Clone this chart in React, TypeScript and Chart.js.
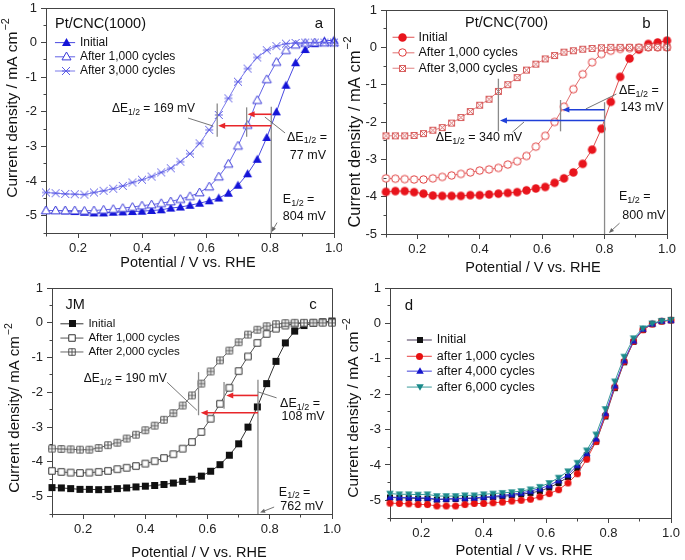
import React, { useEffect, useRef } from 'react';
import { Chart, registerables } from 'chart.js';
Chart.register(...registerables);

const FONT = '"Liberation Sans", Arial, Helvetica, sans-serif';

// ---------------- data ----------------
const POTENTIAL = [0.10, 0.13, 0.16, 0.19, 0.22, 0.25, 0.28, 0.31, 0.34, 0.37, 0.40, 0.43, 0.46, 0.49, 0.52, 0.55, 0.58, 0.61, 0.64, 0.67, 0.70, 0.73, 0.76, 0.79, 0.82, 0.85, 0.88, 0.91, 0.94, 0.97, 1.00];

const X_TICKS = [0.2, 0.4, 0.6, 0.8, 1.0];
const Y_TICKS = [1, 0, -1, -2, -3, -4, -5];

const A_INITIAL = [-4.85, -4.85, -4.86, -4.88, -4.9, -4.92, -4.92, -4.9, -4.89, -4.88, -4.87, -4.85, -4.83, -4.78, -4.75, -4.70, -4.64, -4.57, -4.49, -4.35, -4.12, -3.79, -3.37, -2.74, -2.0, -1.23, -0.58, -0.2, -0.03, 0.05, 0.07];
const A_1000 = [-4.85, -4.85, -4.85, -4.85, -4.86, -4.85, -4.83, -4.81, -4.78, -4.75, -4.71, -4.68, -4.64, -4.59, -4.52, -4.44, -4.33, -4.16, -3.87, -3.5, -2.98, -2.38, -1.66, -1.06, -0.56, -0.22, -0.06, -0.01, 0, 0, 0];
const A_3000 = [-4.33, -4.35, -4.37, -4.38, -4.39, -4.33, -4.28, -4.22, -4.14, -4.04, -3.96, -3.87, -3.75, -3.63, -3.44, -3.21, -2.91, -2.52, -2.09, -1.61, -1.13, -0.75, -0.43, -0.22, -0.1, -0.03, -0.01, 0, 0, 0, 0];

const B_INITIAL = [-3.87, -3.85, -3.85, -3.88, -3.92, -3.97, -3.98, -3.98, -3.98, -3.96, -3.96, -3.94, -3.92, -3.9, -3.88, -3.83, -3.78, -3.74, -3.63, -3.51, -3.35, -3.12, -2.74, -2.18, -1.46, -0.79, -0.30, -0.06, 0.09, 0.13, 0.18];
const B_1000 = [-3.51, -3.52, -3.53, -3.54, -3.54, -3.51, -3.47, -3.43, -3.39, -3.35, -3.3, -3.27, -3.23, -3.14, -3.05, -2.91, -2.66, -2.37, -2.0, -1.59, -1.12, -0.72, -0.40, -0.18, -0.09, -0.04, -0.02, -0.01, 0, 0, 0];
const B_3000 = [-2.37, -2.37, -2.37, -2.36, -2.31, -2.22, -2.15, -2.03, -1.88, -1.72, -1.55, -1.39, -1.18, -1.0, -0.81, -0.61, -0.45, -0.31, -0.22, -0.13, -0.09, -0.05, -0.03, -0.01, 0, 0, 0, 0, 0, 0, 0];

const C_INITIAL = [-4.74, -4.75, -4.77, -4.79, -4.79, -4.8, -4.79, -4.77, -4.75, -4.72, -4.7, -4.68, -4.65, -4.61, -4.56, -4.5, -4.41, -4.27, -4.08, -3.81, -3.48, -3.0, -2.42, -1.75, -1.11, -0.58, -0.24, -0.08, -0.01, 0.02, 0.05];
const C_1000 = [-4.26, -4.29, -4.31, -4.32, -4.31, -4.29, -4.26, -4.21, -4.17, -4.12, -4.05, -3.98, -3.89, -3.78, -3.62, -3.43, -3.14, -2.76, -2.33, -1.87, -1.39, -0.97, -0.58, -0.32, -0.17, -0.08, -0.03, -0.01, 0, 0.02, 0.02];
const C_2000 = [-3.62, -3.63, -3.64, -3.65, -3.65, -3.6, -3.52, -3.45, -3.33, -3.22, -3.09, -2.96, -2.79, -2.6, -2.38, -2.09, -1.75, -1.4, -1.08, -0.8, -0.56, -0.34, -0.2, -0.1, -0.04, -0.01, 0, 0, 0, 0, 0];

const D_INITIAL = [-4.92, -4.93, -4.94, -4.95, -4.95, -4.98, -4.97, -4.96, -4.95, -4.95, -4.92, -4.91, -4.89, -4.86, -4.83, -4.79, -4.74, -4.64, -4.51, -4.34, -4.09, -3.73, -3.34, -2.63, -1.83, -1.1, -0.52, -0.18, -0.02, 0.06, 0.09];
const D_1000 = [-5.08, -5.09, -5.1, -5.12, -5.12, -5.16, -5.16, -5.16, -5.12, -5.09, -5.09, -5.07, -5.05, -5.02, -5.0, -4.97, -4.9, -4.81, -4.7, -4.51, -4.25, -3.84, -3.34, -2.6, -1.8, -1.08, -0.51, -0.18, -0.02, 0.06, 0.09];
const D_4000 = [-4.91, -4.92, -4.92, -4.93, -4.93, -4.97, -4.96, -4.95, -4.94, -4.93, -4.91, -4.89, -4.86, -4.83, -4.79, -4.74, -4.67, -4.58, -4.44, -4.28, -4.01, -3.67, -3.26, -2.54, -1.76, -1.05, -0.49, -0.16, -0.01, 0.07, 0.09];
const D_6000 = [-4.81, -4.83, -4.83, -4.84, -4.83, -4.88, -4.88, -4.88, -4.86, -4.86, -4.83, -4.81, -4.79, -4.77, -4.74, -4.69, -4.62, -4.51, -4.36, -4.18, -3.94, -3.59, -3.14, -2.42, -1.64, -0.94, -0.42, -0.14, 0, 0.07, 0.1];

// ---------------- markers ----------------
function makeMarker(kind: string, color: string, size: number): HTMLCanvasElement {
  const S = Math.ceil(size) + 4;
  const c = document.createElement('canvas');
  c.width = S;
  c.height = S;
  const g = c.getContext('2d') as CanvasRenderingContext2D;
  const m = S / 2;
  const r = size / 2;
  g.lineWidth = 1;
  g.strokeStyle = color;
  g.fillStyle = color;
  const tri = (up: boolean) => {
    g.beginPath();
    if (up) {
      g.moveTo(m, m - r);
      g.lineTo(m + r, m + r * 0.75);
      g.lineTo(m - r, m + r * 0.75);
    } else {
      g.moveTo(m, m + r);
      g.lineTo(m + r, m - r * 0.75);
      g.lineTo(m - r, m - r * 0.75);
    }
    g.closePath();
  };
  const openFill = () => {
    g.fillStyle = '#ffffff';
    g.fill();
    g.stroke();
  };
  switch (kind) {
    case 'triUp': tri(true); g.fill(); break;
    case 'triDown': tri(false); g.fill(); break;
    case 'triUpOpen': tri(true); openFill(); break;
    case 'circle': g.beginPath(); g.arc(m, m, r, 0, Math.PI * 2); g.fill(); break;
    case 'circleOpen': g.beginPath(); g.arc(m, m, r - 0.5, 0, Math.PI * 2); openFill(); break;
    case 'square': g.fillRect(m - r, m - r, 2 * r, 2 * r); break;
    case 'squareOpen': g.beginPath(); g.rect(m - r + 0.5, m - r + 0.5, 2 * r - 1, 2 * r - 1); openFill(); break;
    case 'squarePlus':
      g.beginPath(); g.rect(m - r + 0.5, m - r + 0.5, 2 * r - 1, 2 * r - 1); openFill();
      g.beginPath(); g.moveTo(m, m - r); g.lineTo(m, m + r); g.moveTo(m - r, m); g.lineTo(m + r, m); g.stroke();
      break;
    case 'squareX':
      g.beginPath(); g.rect(m - r + 0.5, m - r + 0.5, 2 * r - 1, 2 * r - 1); openFill();
      g.beginPath(); g.moveTo(m - r, m - r); g.lineTo(m + r, m + r); g.moveTo(m + r, m - r); g.lineTo(m - r, m + r); g.stroke();
      break;
    case 'xbar':
      g.beginPath(); g.moveTo(m - r, m - r); g.lineTo(m + r, m + r); g.moveTo(m + r, m - r); g.lineTo(m - r, m + r);
      g.moveTo(m - r, m); g.lineTo(m + r, m); g.stroke();
      break;
  }
  return c;
}

// ---------------- panels ----------------
type Ann = any;

const PANELS: any[] = [
  {
    key: 'a', left: 0, top: 0, width: 342, height: 280,
    yAxisW: 46, xAxisH: 47, padTop: 8, padRight: 8, yMin: -5.5,
    yTitle: 'Current density / mA cm', yTitleX: 13, yTitleY: 108, yTitleSize: 15.5,
    xTitleX: 188, xTitleY: 263, xTitleSize: 14.5,
    series: [
      { label: 'Initial', data: A_INITIAL, line: '#4848e0', marker: ['triUp', '#1414d8', 9] },
      { label: 'After 1,000 cycles', data: A_1000, line: '#6262e6', marker: ['triUpOpen', '#3a3ad8', 9] },
      { label: 'After 3,000 cycles', data: A_3000, line: '#7a7aea', marker: ['xbar', '#5c5ce6', 8] },
    ],
    legend: { x1: 0.128, x2: 0.191, xm: 0.1625, xt: 0.206, rows: [0, -0.41, -0.82], size: 12 },
    vlines: [[0.804, -1.85, -5.5], [0.727, -1.87, -2.72], [0.635, -1.76, -2.72]],
    arrows: { color: '#e8262a', list: [[0.804, -2.07, 0.73, -2.07], [0.804, -2.4, 0.638, -2.4]] },
    pointers: [[0.544, -2.18, 0.622, -2.41, 0], [0.847, -2.61, 0.784, -2.15, 0], [0.822, -5.2, 0.805, -5.47, 1]],
    texts: [
      ['Pt/CNC(1000)', 0.128, 0.55, 14.5, 'left'],
      ['a', 0.953, 0.55, 15, 'center'],
      ['ΔE_{1/2} = 169 mV', 0.306, -1.92, 12, 'left'],
      ['ΔE_{1/2} =', 0.853, -2.73, 12.5, 'left'],
      ['77 mV', 0.862, -3.25, 12.5, 'left'],
      ['E_{1/2} =', 0.84, -4.54, 12.5, 'left'],
      ['804 mV', 0.84, -5.03, 12.5, 'left'],
    ],
  },
  {
    key: 'b', left: 342, top: 0, width: 343, height: 280,
    yAxisW: 44, xAxisH: 46, padTop: 10, padRight: 18, yMin: -5,
    yTitle: 'Current density / mA cm', yTitleX: 13, yTitleY: 132, yTitleSize: 16.5,
    xTitleX: 191, xTitleY: 268, xTitleSize: 14.5,
    series: [
      { label: 'Initial', data: B_INITIAL, line: '#e05050', marker: ['circle', '#e8141c', 8.5] },
      { label: 'After 1,000 cycles', data: B_1000, line: '#e07070', marker: ['circleOpen', '#e03a3a', 8.5] },
      { label: 'After 3,000 cycles', data: B_3000, line: '#e08080', marker: ['squareX', '#d86060', 7] },
    ],
    legend: { x1: 0.121, x2: 0.191, xm: 0.153, xt: 0.204, rows: [0.27, -0.147, -0.56], size: 12.5 },
    vlines: [[0.80, -1.47, -5], [0.659, -1.41, -2.25], [0.46, -0.84, -2.25]],
    arrows: { color: '#1f3fd8', list: [[0.80, -1.67, 0.665, -1.67], [0.80, -1.96, 0.465, -1.96]] },
    pointers: [[0.838, -1.25, 0.74, -1.65, 0], [0.505, -2.27, 0.542, -2.0, 0], [0.848, -4.71, 0.814, -4.97, 1]],
    texts: [
      ['Pt/CNC(700)', 0.486, 0.64, 14.5, 'center'],
      ['b', 0.934, 0.64, 15, 'center'],
      ['ΔE_{1/2} =', 0.846, -1.16, 12.5, 'left'],
      ['143 mV', 0.851, -1.6, 12.5, 'left'],
      ['ΔE_{1/2} = 340 mV', 0.259, -2.41, 12.5, 'left'],
      ['E_{1/2} =', 0.846, -4.01, 12.5, 'left'],
      ['800 mV', 0.857, -4.5, 12.5, 'left'],
    ],
  },
  {
    key: 'c', left: 0, top: 280, width: 342, height: 280,
    yAxisW: 52, xAxisH: 46, padTop: 8, padRight: 10, yMin: -5.5,
    yTitle: 'Current density/ mA cm', yTitleX: 15, yTitleY: 128, yTitleSize: 15,
    xTitleX: 199, xTitleY: 273, xTitleSize: 14.5,
    series: [
      { label: 'Initial', data: C_INITIAL, line: '#333333', marker: ['square', '#111111', 7] },
      { label: 'After 1,000 cycles', data: C_1000, line: '#555555', marker: ['squareOpen', '#333333', 7.5] },
      { label: 'After 2,000 cycles', data: C_2000, line: '#666666', marker: ['squarePlus', '#555555', 7.5] },
    ],
    legend: { x1: 0.127, x2: 0.201, xm: 0.165, xt: 0.217, rows: [-0.03, -0.44, -0.84], size: 11.5 },
    vlines: [[0.762, -1.64, -5.5], [0.653, -1.7, -2.47], [0.571, -1.42, -2.66]],
    arrows: { color: '#e8262a', list: [[0.762, -2.09, 0.66, -2.09], [0.762, -2.59, 0.578, -2.59]] },
    pointers: [[0.47, -1.71, 0.566, -2.52, 0], [0.822, -2.16, 0.763, -1.99, 0], [0.814, -5.3, 0.769, -5.46, 1]],
    texts: [
      ['JM', 0.143, 0.5, 14.5, 'left'],
      ['c', 0.939, 0.52, 15, 'center'],
      ['ΔE_{1/2} = 190 mV', 0.202, -1.61, 12, 'left'],
      ['ΔE_{1/2} =', 0.833, -2.33, 12.5, 'left'],
      ['108 mV', 0.838, -2.71, 12.5, 'left'],
      ['E_{1/2} =', 0.829, -4.87, 12.5, 'left'],
      ['762 mV', 0.834, -5.3, 12.5, 'left'],
    ],
  },
  {
    key: 'd', left: 342, top: 280, width: 343, height: 280,
    yAxisW: 48, xAxisH: 42, padTop: 8, padRight: 14, yMin: -5.5,
    yTitle: 'Current density / mA cm', yTitleX: 12, yTitleY: 128, yTitleSize: 15.5,
    xTitleX: 182, xTitleY: 271, xTitleSize: 14.7,
    series: [
      { label: 'Initial', data: D_INITIAL, line: '#4a3a5a', marker: ['square', '#111111', 6] },
      { label: 'after 1,000 cycles', data: D_1000, line: '#e84040', marker: ['circle', '#e81010', 7] },
      { label: 'after 4,000 cycles', data: D_4000, line: '#4040d8', marker: ['triUp', '#1515cc', 7.5] },
      { label: 'after 6,000 cycles', data: D_6000, line: '#3a9a9a', marker: ['triDown', '#1a8a8a', 7.5] },
    ],
    legend: { x1: 0.154, x2: 0.234, xm: 0.196, xt: 0.25, rows: [-0.47, -0.93, -1.35, -1.8], size: 12.5 },
    vlines: [],
    arrows: { color: '#000', list: [] },
    pointers: [],
    texts: [['d', 0.161, 0.5, 15, 'center']],
  },
];

// ---------------- drawing helpers ----------------
function drawRich(ctx: CanvasRenderingContext2D, str: string, x: number, y: number, size: number, align: string) {
  const parts: { t: string; sub: boolean }[] = [];
  const re = /_\{([^}]*)\}/g;
  let last = 0;
  let mm: RegExpExecArray | null;
  while ((mm = re.exec(str))) {
    if (mm.index > last) parts.push({ t: str.slice(last, mm.index), sub: false });
    parts.push({ t: mm[1], sub: true });
    last = mm.index + mm[0].length;
  }
  if (last < str.length) parts.push({ t: str.slice(last), sub: false });
  const subSize = size * 0.72;
  let total = 0;
  for (const p of parts) {
    ctx.font = `${p.sub ? subSize : size}px ${FONT}`;
    total += ctx.measureText(p.t).width;
  }
  let cx = align === 'center' ? x - total / 2 : x;
  ctx.textAlign = 'left';
  ctx.textBaseline = 'middle';
  for (const p of parts) {
    ctx.font = `${p.sub ? subSize : size}px ${FONT}`;
    ctx.fillText(p.t, cx, p.sub ? y + size * 0.3 : y);
    cx += ctx.measureText(p.t).width;
  }
}

function drawArrow(ctx: CanvasRenderingContext2D, x1: number, y1: number, x2: number, y2: number, color: string, lw: number, head: number) {
  const ang = Math.atan2(y2 - y1, x2 - x1);
  const c = Math.cos(ang), s = Math.sin(ang);
  ctx.strokeStyle = color;
  ctx.fillStyle = color;
  ctx.lineWidth = lw;
  ctx.beginPath();
  ctx.moveTo(x1, y1);
  ctx.lineTo(x2 - c * head * 0.7, y2 - s * head * 0.7);
  ctx.stroke();
  if (head > 0) {
    const w = head * 0.42;
    ctx.beginPath();
    ctx.moveTo(x2, y2);
    ctx.lineTo(x2 - c * head + s * w, y2 - s * head - c * w);
    ctx.lineTo(x2 - c * head - s * w, y2 - s * head + c * w);
    ctx.closePath();
    ctx.fill();
  }
}

const align = (p: number) => Math.round(p - 0.5) + 0.5;

function PanelChart({ panel }: { panel: any }) {
  const ref = useRef<HTMLCanvasElement | null>(null);
  useEffect(() => {
    const markers = panel.series.map((s: any) => makeMarker(s.marker[0], s.marker[1], s.marker[2]));
    const n = panel.series.length;
    const datasets = panel.series.map((s: any, i: number) => ({
      label: s.label,
      data: POTENTIAL.map((x, j) => ({ x, y: s.data[j] })),
      borderColor: s.line,
      backgroundColor: s.line,
      borderWidth: 1,
      pointStyle: markers[i],
      pointRadius: 4,
      pointHoverRadius: 4,
      fill: false,
      tension: 0,
      clip: false,
      order: n - i,
    }));

    const deco = {
      id: 'deco' + panel.key,
      afterDraw(chart: any) {
        const ctx: CanvasRenderingContext2D = chart.ctx;
        const xs = chart.scales.x, ys = chart.scales.y, ca = chart.chartArea;
        const X = (v: number) => xs.getPixelForValue(v);
        const Y = (v: number) => ys.getPixelForValue(v);
        ctx.save();
        // frame
        const l = align(ca.left), r = align(ca.right), t = align(ca.top), b = align(ca.bottom);
        ctx.strokeStyle = '#444';
        ctx.lineWidth = 1;
        ctx.beginPath();
        ctx.moveTo(l, t); ctx.lineTo(r, t); ctx.lineTo(r, b);
        ctx.stroke();
        // minor ticks
        ctx.beginPath();
        for (let v = 0.1; v < 1.0; v += 0.2) {
          const px = align(X(v));
          ctx.moveTo(px, b); ctx.lineTo(px, b + 3);
        }
        for (let v = 0.5; v > panel.yMin - 0.01; v -= 1) {
          const py = align(Y(v));
          ctx.moveTo(l, py); ctx.lineTo(l - 3, py);
        }
        ctx.stroke();
        // vertical marker lines
        ctx.strokeStyle = '#8a8a8a';
        ctx.lineWidth = 1.3;
        for (const [x, y1, y2] of panel.vlines) {
          ctx.beginPath();
          ctx.moveTo(X(x), Y(y1));
          ctx.lineTo(X(x), Y(y2));
          ctx.stroke();
        }
        // coloured arrows
        for (const [x1, y1, x2, y2] of panel.arrows.list) {
          drawArrow(ctx, X(x1), Y(y1), X(x2), Y(y2), panel.arrows.color, 1.6, 7);
        }
        // pointers
        for (const [x1, y1, x2, y2, h] of panel.pointers) {
          drawArrow(ctx, X(x1), Y(y1), X(x2), Y(y2), '#666', 0.9, h ? 5 : 0);
        }
        // texts
        ctx.fillStyle = '#111';
        for (const [str, x, y, size, al] of panel.texts) {
          ctx.fillStyle = '#111';
          drawRich(ctx, str, X(x), Y(y), size, al);
        }
        // legend
        const lg = panel.legend;
        panel.series.forEach((s: any, i: number) => {
          const py = Y(lg.rows[i]);
          ctx.strokeStyle = s.line;
          ctx.lineWidth = 1;
          ctx.beginPath();
          ctx.moveTo(X(lg.x1), py);
          ctx.lineTo(X(lg.x2), py);
          ctx.stroke();
          const mk = markers[i];
          ctx.drawImage(mk, Math.round(X(lg.xm) - mk.width / 2), Math.round(py - mk.height / 2));
          ctx.fillStyle = '#111';
          ctx.font = `${lg.size}px ${FONT}`;
          ctx.textAlign = 'left';
          ctx.textBaseline = 'middle';
          ctx.fillText(s.label, X(lg.xt), py);
        });
        // axis titles
        ctx.fillStyle = '#111';
        ctx.font = `${panel.xTitleSize}px ${FONT}`;
        ctx.textAlign = 'center';
        ctx.textBaseline = 'middle';
        ctx.fillText('Potential / V vs. RHE', panel.xTitleX, panel.xTitleY);
        ctx.save();
        ctx.translate(panel.yTitleX, panel.yTitleY);
        ctx.rotate(-Math.PI / 2);
        const sz = panel.yTitleSize;
        ctx.font = `${sz}px ${FONT}`;
        const w1 = ctx.measureText(panel.yTitle).width;
        ctx.font = `${sz * 0.7}px ${FONT}`;
        const w2 = ctx.measureText('\u22122').width;
        const start = -(w1 + w2 + 1) / 2;
        ctx.textAlign = 'left';
        ctx.font = `${sz}px ${FONT}`;
        ctx.fillText(panel.yTitle, start, 0);
        ctx.font = `${sz * 0.7}px ${FONT}`;
        ctx.fillText('\u22122', start + w1 + 1, -sz * 0.42);
        ctx.restore();
        ctx.restore();
      },
    };

    const chart = new Chart(ref.current as HTMLCanvasElement, {
      type: 'line',
      data: { datasets },
      options: {
        animation: false,
        responsive: false,
        events: [],
        layout: { padding: { left: 0, top: panel.padTop, right: panel.padRight, bottom: 0 } },
        plugins: { legend: { display: false }, tooltip: { enabled: false }, title: { display: false } },
        scales: {
          x: {
            type: 'linear',
            min: 0.1,
            max: 1.0,
            afterBuildTicks: (s: any) => { s.ticks = X_TICKS.map((v) => ({ value: v })); },
            afterFit: (s: any) => { s.height = panel.xAxisH; s.paddingLeft = 0; s.paddingRight = 0; },
            ticks: {
              font: { family: FONT, size: 13 },
              color: '#222',
              padding: 3,
              maxRotation: 0,
              autoSkip: false,
              callback: (v: any) => Number(v).toFixed(1),
            },
            grid: { drawOnChartArea: false, drawTicks: true, tickLength: 5, tickColor: '#444' },
            border: { display: true, color: '#444', width: 1 },
          },
          y: {
            type: 'linear',
            min: panel.yMin,
            max: 1,
            afterBuildTicks: (s: any) => { s.ticks = Y_TICKS.map((v) => ({ value: v })); },
            afterFit: (s: any) => { s.width = panel.yAxisW; s.paddingTop = 0; s.paddingBottom = 0; },
            ticks: {
              font: { family: FONT, size: 13 },
              color: '#222',
              padding: 4,
              autoSkip: false,
              callback: (v: any) => String(v),
            },
            grid: { drawOnChartArea: false, drawTicks: true, tickLength: 5, tickColor: '#444' },
            border: { display: true, color: '#444', width: 1 },
          },
        },
      },
      plugins: [deco],
    } as any);
    return () => chart.destroy();
  }, [panel]);
  return (
    <canvas
      ref={ref}
      width={panel.width}
      height={panel.height}
      style={{ position: 'absolute', left: panel.left, top: panel.top, width: panel.width, height: panel.height }}
    />
  );
}

export default function App() {
  return (
    <div style={{ position: 'absolute', left: 0, top: 0, width: 685, height: 560, background: '#ffffff', overflow: 'hidden' }}>
      {PANELS.map((p) => (
        <PanelChart key={p.key} panel={p} />
      ))}
    </div>
  );
}
